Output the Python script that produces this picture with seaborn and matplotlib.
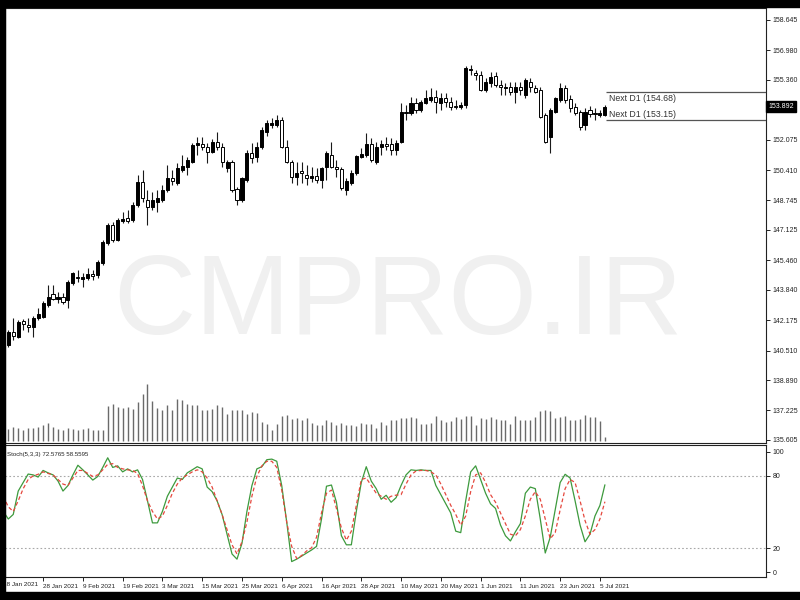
import numpy as np
import pandas as pd
import matplotlib
matplotlib.use("Agg")
import matplotlib.pyplot as plt
import matplotlib.transforms as mtransforms
from matplotlib.patches import Rectangle
import seaborn as sns

# ---------------- data ----------------
opens = [140.87, 140.82, 141.53, 141.25, 142.13, 141.91, 141.80, 142.30, 142.35, 143.01,
         143.61, 143.34, 143.45, 143.28, 144.22, 144.55, 144.44, 144.49, 144.71, 144.66,
         145.31, 146.41, 147.40, 146.57, 147.62, 147.78, 147.67, 148.50, 149.76, 148.77,
         148.39, 148.66, 148.77, 149.32, 149.98, 149.70, 150.42, 150.58, 150.85, 151.79,
         151.84, 151.68, 151.40, 151.95, 151.68, 150.53, 150.85, 149.37, 148.77, 149.87,
         151.35, 151.13, 151.68, 152.50, 152.88, 152.88, 153.16, 151.68, 150.85, 150.03,
         150.36, 150.14, 149.98, 150.09, 149.87, 150.58, 151.24, 150.58, 150.47, 149.32,
         149.70, 150.25, 151.13, 151.24, 151.84, 150.85, 151.68, 151.84, 151.84, 151.51,
         151.95, 153.60, 153.54, 154.09, 153.71, 154.09, 154.26, 154.42, 154.09, 154.37,
         154.15, 153.93, 153.87, 153.98, 155.90, 155.74, 155.63, 154.80, 155.19, 155.57,
         155.08, 154.91, 154.97, 154.70, 154.97, 154.53, 155.24, 154.91, 154.80, 153.43,
         152.23, 153.60, 154.26, 154.91, 154.31, 153.87, 153.60, 152.88, 153.71, 153.54,
         153.43, 153.43]
highs = [141.36, 141.64, 142.30, 142.19, 142.24, 142.30, 142.41, 142.84, 143.23, 144.11,
         144.11, 143.72, 143.67, 144.38, 144.82, 144.93, 144.77, 145.04, 144.93, 145.48,
         146.57, 147.51, 147.56, 147.78, 148.11, 148.22, 148.66, 150.14, 150.42, 149.32,
         149.21, 149.32, 149.59, 150.69, 150.42, 150.80, 151.24, 151.13, 151.90, 152.23,
         152.23, 151.90, 152.12, 152.50, 151.90, 150.96, 150.96, 149.48, 150.03, 151.51,
         151.90, 151.95, 152.77, 153.16, 153.27, 153.43, 153.32, 152.06, 150.96, 150.85,
         150.85, 150.69, 150.58, 150.53, 150.58, 151.46, 151.95, 150.96, 150.58, 149.98,
         150.42, 151.24, 151.62, 152.44, 152.17, 151.95, 152.06, 152.23, 152.17, 152.06,
         154.09, 153.98, 154.42, 154.37, 154.26, 154.80, 154.91, 154.80, 154.64, 154.64,
         154.42, 154.26, 154.15, 156.12, 156.18, 155.90, 155.85, 155.46, 155.79, 155.79,
         155.35, 155.19, 155.24, 155.24, 155.24, 155.46, 155.46, 155.08, 154.97, 153.54,
         153.82, 154.42, 155.19, 155.08, 154.53, 154.09, 153.71, 153.82, 153.93, 153.82,
         153.71, 153.98]
lows = [140.71, 140.71, 141.09, 141.20, 141.64, 141.53, 141.25, 142.19, 142.30, 142.90,
        143.28, 143.12, 143.06, 142.84, 144.11, 144.27, 144.00, 144.38, 144.38, 144.49,
        145.20, 146.30, 146.47, 146.52, 147.51, 147.51, 147.56, 148.39, 148.66, 147.40,
        148.22, 148.11, 148.66, 149.21, 149.59, 149.59, 150.31, 150.14, 150.80, 151.24,
        151.51, 150.80, 151.35, 151.51, 150.58, 150.31, 149.21, 148.50, 148.66, 149.76,
        150.80, 150.85, 151.57, 152.28, 152.72, 152.77, 151.62, 150.80, 149.70, 149.59,
        149.70, 149.59, 149.76, 149.70, 149.43, 149.87, 150.53, 150.03, 149.32, 149.04,
        149.59, 150.14, 151.07, 151.13, 150.85, 150.75, 151.24, 151.51, 151.24, 151.24,
        151.90, 153.16, 153.43, 153.54, 153.60, 154.04, 154.15, 153.54, 153.71, 153.87,
        153.71, 153.76, 153.76, 153.82, 155.63, 155.35, 154.75, 154.70, 154.97, 154.97,
        154.53, 154.53, 154.53, 154.09, 154.53, 154.37, 154.70, 154.64, 153.27, 151.90,
        151.35, 153.54, 154.15, 154.09, 153.60, 153.43, 152.61, 152.61, 153.32, 153.16,
        153.32, 153.38]
closes = [141.20, 141.53, 141.31, 142.08, 141.97, 141.80, 142.30, 142.52, 143.12, 143.45,
          143.34, 143.45, 143.17, 144.27, 144.77, 144.49, 144.55, 144.71, 144.60, 145.37,
          146.47, 147.40, 146.57, 147.67, 147.73, 147.62, 148.50, 149.76, 148.88, 148.39,
          148.77, 148.88, 149.32, 149.98, 149.81, 150.53, 150.64, 150.96, 151.79, 151.90,
          151.68, 151.40, 151.95, 151.68, 150.85, 150.85, 149.32, 148.77, 149.98, 151.35,
          151.07, 151.68, 152.61, 152.99, 152.99, 153.16, 151.68, 150.85, 150.03, 150.25,
          150.25, 149.98, 150.09, 149.87, 150.53, 151.35, 150.58, 150.47, 149.43, 149.81,
          150.25, 151.18, 151.29, 151.84, 150.96, 151.68, 151.84, 151.73, 151.51, 151.90,
          153.60, 153.54, 154.09, 153.71, 154.15, 154.37, 154.42, 154.15, 154.37, 154.15,
          153.87, 153.87, 153.98, 156.01, 155.96, 155.63, 154.80, 155.24, 155.52, 155.08,
          154.97, 154.97, 154.70, 154.97, 154.80, 155.35, 154.97, 154.70, 153.32, 151.95,
          153.71, 154.37, 154.91, 154.26, 153.82, 153.54, 152.77, 153.60, 153.49, 153.49,
          153.54, 153.892]
volume = [38, 37, 42, 39, 34, 39, 39, 42, 47, 55, 42, 37, 34, 39, 37, 34, 37, 39, 32, 34,
          34, 104, 112, 102, 100, 102, 97, 117, 142, 172, 120, 99, 92, 107, 92, 125, 122, 112, 109, 107,
          94, 92, 97, 109, 102, 82, 94, 92, 94, 80, 87, 84, 57, 52, 34, 52, 74, 79, 67, 69,
          62, 70, 55, 49, 49, 62, 57, 49, 55, 47, 47, 45, 54, 52, 52, 39, 57, 47, 64, 64,
          69, 69, 72, 69, 52, 52, 55, 75, 62, 57, 59, 72, 65, 75, 75, 47, 69, 67, 72, 67,
          62, 64, 52, 75, 64, 62, 62, 72, 89, 92, 89, 69, 72, 74, 64, 64, 67, 77, 72, 72,
          59, 12]
stoch_k = [50.5, 44.2, 48, 67.4, 74.5, 81.5, 80.8, 79, 84.5, 82.5,
           80.8, 75.7, 67.4, 71.9, 80.8, 88.8, 85, 80.8, 76.5, 79.5,
           87, 95, 87, 88.3, 83.3, 85.8, 83.3, 85, 77, 59.3,
           41, 41, 50.5, 63.1, 70.7, 78.2, 77, 82.5, 85, 87.6,
           85.8, 70.7, 66.9, 59.3, 48, 31.6, 15.2, 10.9, 24, 50.5,
           71.9, 85.8, 87.6, 93.4, 93.9, 92.1, 71.9, 41.7, 8.9, 10.9,
           13.4, 16, 18.5, 21.5, 44.2, 71.4, 72.4, 58.1, 30.3, 22.8,
           22.8, 50.5, 74.5, 87.6, 75.7, 69.4, 60.6, 63.9, 58.1, 61.9,
           72, 80.8, 85, 84.5, 85, 84.5, 84.5, 72, 64.4, 56.8,
           49.2, 34.1, 32.9, 59.3, 83.3, 88.3, 77, 65.6, 56.8, 53,
           39.2, 30.3, 26, 33.6, 40.4, 65.6, 70.7, 69.4, 44.2, 16,
           29.1, 51.8, 74.5, 81.3, 78.2, 59.3, 39.2, 25.3, 31.6, 46.7,
           55.5, 72.5765]
stoch_d = [63.1, 54.3, 50.5, 59.3, 69.4, 77, 80, 81.3, 83.3, 82,
           80.8, 77, 73.2, 71.9, 78.2, 84.5, 84.5, 82, 79.5, 80.8,
           85, 89.6, 90.1, 87, 85.8, 85, 84.5, 82, 71.9, 59.3,
           50.5, 44.2, 46.7, 55.5, 65.6, 73.2, 78.2, 80.8, 83.3, 85,
           83.3, 78.2, 70.7, 59.3, 48, 35.4, 22.8, 15.2, 25.3, 41.7,
           63.1, 79.5, 88.3, 92.1, 92.1, 87, 68.2, 41.7, 21.5, 11.4,
           13.9, 17.7, 20.3, 29.1, 49.2, 65.6, 68.2, 53, 36.7, 26.6,
           34.1, 55.5, 77, 78.2, 71.9, 65.6, 63.1, 60.6, 63.1, 64,
           64.4, 73.2, 80.8, 84, 84.5, 84.5, 83.3, 80.8, 73.2, 64.4,
           55.5, 48, 39.2, 46.7, 66.9, 80.8, 82.5, 74.5, 64.4, 58.1,
           49.2, 40.4, 31.6, 30.3, 35.4, 46.7, 60.6, 66.9, 60.6, 44.2,
           27.8, 32.9, 51.8, 69.4, 77, 74.5, 59.3, 42.9, 31.6, 35.4,
           44.2, 58.5595]
date_labels = ["18 Jan 2021", "28 Jan 2021", "9 Feb 2021", "19 Feb 2021", "3 Mar 2021",
               "15 Mar 2021", "25 Mar 2021", "6 Apr 2021", "16 Apr 2021", "28 Apr 2021",
               "10 May 2021", "20 May 2021", "1 Jun 2021", "11 Jun 2021", "23 Jun 2021",
               "5 Jul 2021"]
date_positions = [0, 8, 16, 24, 32, 40, 48, 56, 64, 72, 80, 88, 96, 104, 112, 120]
price_ticks = [158.645, 156.980, 155.360, 152.075, 150.410, 148.745, 147.125,
               145.460, 143.840, 142.175, 140.510, 138.890, 137.225, 135.605]
stoch_ticks = [0, 20, 80, 100]
next_d1 = [154.68, 153.15]
last_price = 153.892

# ---------------- styling ----------------
sns.set_theme(style="white")
plt.rcParams["font.family"] = ["Liberation Sans", "DejaVu Sans"]

W, H = 800, 600
fig = plt.figure(figsize=(8, 6), dpi=100, facecolor="white")
ax = fig.add_axes([5 / W, 1 - 443 / H, 761 / W, 435 / H])
axs = fig.add_axes([5 / W, 1 - 577 / H, 761 / W, 132 / H], sharex=ax)

df = pd.DataFrame({"o": opens, "h": highs, "l": lows, "c": closes,
                   "v": volume, "k": stoch_k, "d": stoch_d})
df["x"] = np.arange(len(df))

# watermark
ax.text(0.516, 0.25, "CMPRO.IR", transform=ax.transAxes, ha="center", va="baseline",
        fontsize=82, color="#f0f0f0", zorder=0)

# candles
ax.vlines(df["x"], df["l"], df["h"], color="#1a1a1a", lw=0.8, zorder=2)
bull = df["c"] >= df["o"]
body_bottom = np.minimum(df["o"], df["c"])
body_h = np.maximum(np.abs(df["c"] - df["o"]), 0.03)
ax.bar(df["x"], body_h, bottom=body_bottom, width=0.62,
       color=np.where(bull, "black", "white"), edgecolor="black", linewidth=0.7, zorder=3)

# volumes (overlay at the bottom of the main panel)
axv = ax.twinx()
axv.vlines(df["x"], 0, df["v"], color="#6a6a6a", lw=1.0)
axv.set_ylim(-6, 1299)
axv.set_yticks([])
for s in axv.spines.values():
    s.set_visible(False)

ax.set_xlim(0.34, 153.4)
ax.set_ylim(135.44, 159.30)
ax.yaxis.tick_right()
ax.set_yticks(price_ticks)
ax.set_yticklabels([f"{p:.3f}" for p in price_ticks])
ax.tick_params(axis="y", which="both", right=True, left=False, direction="out", length=3,
               width=0.7, color="#222222", pad=2, labelsize=5, labelcolor="#222222")
ax.tick_params(axis="x", bottom=False, labelbottom=False)
for s in ax.spines.values():
    s.set_color("#222222")
    s.set_linewidth(0.8)

# Next D1 lines
ax.hlines(next_d1, 121.3, 153.4, color="#555555", lw=0.9, zorder=3)
ax.text(121.9, next_d1[0] - 0.08, f"Next D1 ({next_d1[0]:.2f})", ha="left", va="top",
        fontsize=6.3, color="#333333", zorder=4)
ax.text(121.9, next_d1[1] + 0.07, f"Next D1 ({next_d1[1]:.2f})", ha="left", va="bottom",
        fontsize=6.3, color="#333333", zorder=4)

# current price box
trans = mtransforms.blended_transform_factory(ax.transAxes, ax.transData)
ax.text(1.003, last_price, f"{last_price:.3f}", transform=trans, ha="left", va="center",
        fontsize=5, color="white", clip_on=False, zorder=6,
        bbox=dict(boxstyle="square,pad=0.3", fc="black", ec="black"))

# stochastic panel
axs.axhline(80, color="#a8a8a8", lw=0.8, ls=(0, (1.5, 2)))
axs.axhline(20, color="#a8a8a8", lw=0.8, ls=(0, (1.5, 2)))
sns.lineplot(data=df, x="x", y="k", ax=axs, color="#3d9a3d", lw=0.9)
sns.lineplot(data=df, x="x", y="d", ax=axs, color="#e5483e", lw=0.9, linestyle=(0, (3, 2)))
axs.set_ylim(-3.9, 105.6)
axs.set_xlabel("")
axs.set_ylabel("")
axs.yaxis.tick_right()
axs.set_yticks(stoch_ticks)
axs.set_yticklabels([str(t) for t in stoch_ticks])
axs.tick_params(axis="y", right=True, left=False, direction="out", length=3, width=0.7,
                color="#222222", pad=2, labelsize=5, labelcolor="#222222")
axs.set_xlim(0.34, 153.4)
axs.set_xticks(date_positions[1:])
axs.set_xticklabels(date_labels[1:], ha="left")
axs.tick_params(axis="x", bottom=True, direction="out", length=3, width=0.7, color="#222222",
                pad=2, labelsize=4.6, labelcolor="#222222")
# first date label sits left of the visible range (partly under the frame)
tx = mtransforms.blended_transform_factory(axs.transData, axs.transAxes)
axs.text(date_positions[0], -5 / 132, date_labels[0], transform=tx, ha="left", va="top",
         fontsize=4.6, color="#222222", clip_on=False)
for s in axs.spines.values():
    s.set_color("#222222")
    s.set_linewidth(0.8)
axs.text(0.003, 0.925, "Stoch(5,3,3) 72.5765 58.5595", transform=axs.transAxes,
         ha="left", va="center", fontsize=4.4, color="#222222")

# black frame of the screenshot
fig.add_artist(Rectangle((0, 1 - 7 / H), 1, 7 / H, transform=fig.transFigure,
                         color="black", zorder=10))
fig.add_artist(Rectangle((0, 0), 5 / W, 1, transform=fig.transFigure,
                         color="black", zorder=10))
fig.add_artist(Rectangle((0, 0), 1, 8 / H, transform=fig.transFigure,
                         color="black", zorder=10))

fig.savefig("out.png", dpi=100, facecolor="white")
